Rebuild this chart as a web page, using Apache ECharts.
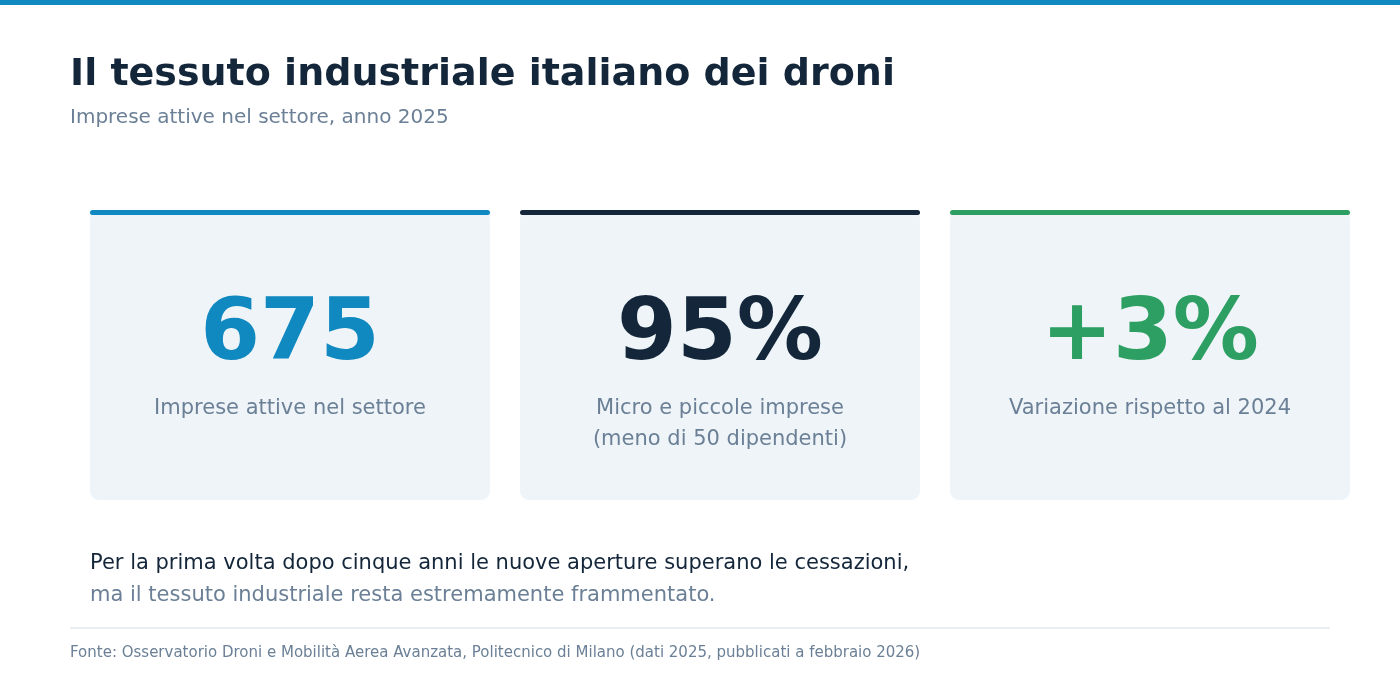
<!DOCTYPE html>
<html>
<head>
<meta charset="utf-8">
<title>Il tessuto industriale italiano dei droni</title>
<script src="https://cdn.jsdelivr.net/npm/echarts@6/dist/echarts.min.js"></script>
<style>
  html, body { margin: 0; padding: 0; background: #fff; }
  #chart { width: 1400px; height: 700px; }
</style>
</head>
<body>
<div id="chart"></div>
<script>
// dati delle schede
var kpi_values = ['675', '95%', '+3%'];
var kpi_labels = [
    ['Imprese attive nel settore'],
    ['Micro e piccole imprese', '(meno di 50 dipendenti)'],
    ['Variazione rispetto al 2024']
];
var kpi_colors = ['#1088c0', '#13263a', '#2e9f63'];

var title_text = 'Il tessuto industriale italiano dei droni';
var subtitle_text = 'Imprese attive nel settore, anno 2025';
var note_lines = [
    'Per la prima volta dopo cinque anni le nuove aperture superano le cessazioni,',
    'ma il tessuto industriale resta estremamente frammentato.'
];
var source_text = 'Fonte: Osservatorio Droni e Mobilità Aerea Avanzata, Politecnico di Milano (dati 2025, pubblicati a febbraio 2026)';

var FONT = 'DejaVu Sans';
var GRAY = '#6b8096';
var DARK = '#13263a';

var myChart = echarts.init(document.getElementById('chart'), null, { renderer: 'canvas' });

// piccolo helper per i testi
function txt(t, x, y, size, weight, color, align) {
    return {
        type: 'text',
        style: {
            text: t, x: x, y: y,
            fontFamily: FONT, fontSize: size, fontWeight: weight,
            fill: color, textAlign: align || 'left', textVerticalAlign: 'middle'
        }
    };
}

var elements = [];

// barra in alto
elements.push({
    type: 'rect',
    shape: { x: 0, y: 0, width: 1400, height: 5 },
    style: { fill: '#1088c0' }
});

// titolo e sottotitolo
elements.push(txt(title_text, 70, 75, 38, 'bold', DARK));
elements.push(txt(subtitle_text, 70, 118, 20, 'normal', GRAY));

// schede
var card_x = [90, 520, 950];
var card_w = 400, card_top = 210, card_h = 290;
for (var i = 0; i < kpi_values.length; i++) {
    var cx = card_x[i] + card_w / 2;
    elements.push({
        type: 'rect',
        shape: { x: card_x[i], y: card_top, width: card_w, height: card_h, r: 9 },
        style: { fill: '#eef4f8' }
    });
    elements.push({
        type: 'rect',
        shape: { x: card_x[i], y: card_top, width: card_w, height: 5, r: 2.5 },
        style: { fill: kpi_colors[i] }
    });
    elements.push(txt(kpi_values[i], cx, 337, 86, 'bold', kpi_colors[i], 'center'));
    for (var j = 0; j < kpi_labels[i].length; j++) {
        elements.push(txt(kpi_labels[i][j], cx, 409 + j * 31, 21, 'normal', GRAY, 'center'));
    }
}

// nota
for (var k = 0; k < note_lines.length; k++) {
    elements.push(txt(note_lines[k], 90, 564 + k * 32, 21, 'normal', k == 0 ? DARK : GRAY));
}

// separatore e fonte
elements.push({
    type: 'line',
    shape: { x1: 70, y1: 628, x2: 1330, y2: 628 },
    style: { stroke: '#e3e8ee', lineWidth: 1.5 }
});
elements.push(txt(source_text, 70, 653, 15, 'normal', GRAY));

var option = {
    backgroundColor: '#ffffff',
    animation: false,
    graphic: { elements: elements }
};
myChart.setOption(option);
</script>
</body>
</html>
